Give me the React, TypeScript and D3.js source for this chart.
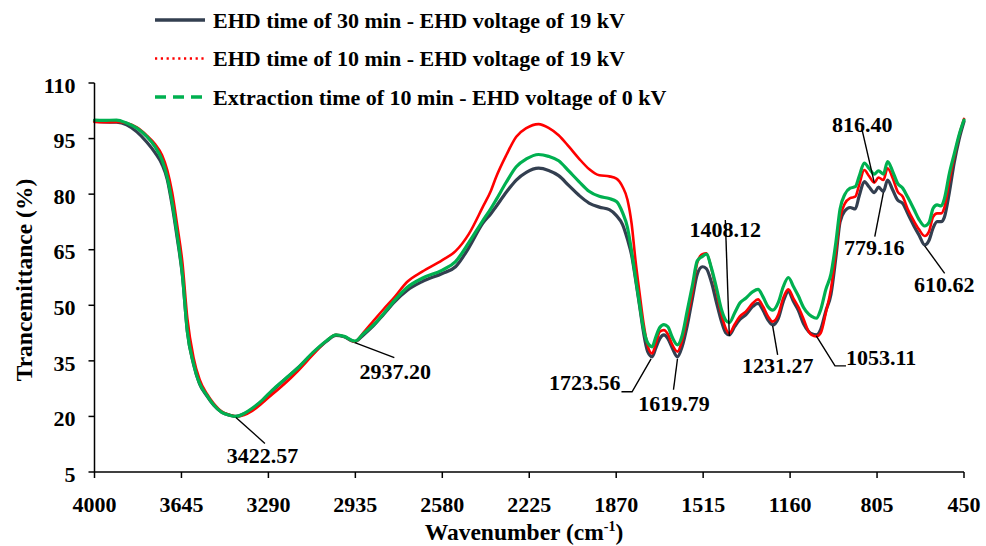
import React from 'react';
import * as d3 from 'd3';

// FTIR spectra: wavenumber (cm-1) and transmittance (%) for three extraction runs
const wavenumbers = [
  4000, 3964, 3910, 3869, 3827, 3786, 3753, 3724, 3703, 3683, 3662, 3641, 3621, 3596, 3571, 3542, 3513, 3480, 3447,
  3422.57, 3389, 3356, 3315, 3274, 3224, 3171, 3109, 3051, 3014, 2981, 2937.2, 2902, 2861, 2819, 2774, 2724, 2662,
  2580, 2526, 2472, 2415, 2381, 2361, 2319, 2278, 2237, 2187, 2146, 2105, 2063, 2022, 1981, 1939, 1898, 1869, 1844,
  1824, 1807, 1791, 1774, 1758, 1741, 1723.56, 1708, 1692, 1675, 1659, 1642, 1619.79, 1601, 1580, 1559, 1539, 1518,
  1502, 1481, 1460, 1440, 1423, 1408.12, 1386, 1365, 1341, 1312, 1291, 1270, 1250, 1231.27, 1208, 1188, 1167, 1146,
  1126, 1105, 1084, 1072, 1053.11, 1035, 1014, 993, 973, 956, 936, 915, 894, 878, 857, 838, 816.4, 799, 779.16, 762,
  741, 721, 700, 680, 655, 634, 610.62, 593, 576, 560, 543, 530, 510, 490, 470, 450,
];

const ehd30min19kV = [
  99.7, 99.5, 99.4, 98.7, 96.8, 94.0, 91.2, 88.0, 84.0, 77.0, 68.0, 58.0, 43.0, 34.2, 28.8, 25.6, 23.0, 21.1, 20.3,
  20.0, 20.7, 22.0, 24.2, 26.9, 29.9, 33.0, 37.0, 40.4, 41.9, 41.5, 40.2, 42.0, 44.5, 47.6, 51.0, 54.0, 56.4,
  58.6, 60.4, 65.5, 72.1, 74.8, 76.6, 80.5, 83.8, 85.9, 87.0, 86.4, 85.0, 82.3, 79.7, 77.6, 76.5, 75.8, 74.2, 71.8,
  67.8, 63.5, 57.0, 49.6, 42.5, 37.4, 36.1, 38.5, 41.0, 42.0, 41.0, 38.6, 36.1, 38.8, 44.5, 51.8, 58.4, 60.4,
  59.9, 56.2, 50.6, 45.6, 42.6, 42.0, 44.3, 46.2, 47.4, 49.7, 50.5, 48.6, 46.0, 44.7, 46.5, 51.0, 53.7, 51.0,
  48.6, 45.0, 42.9, 42.3, 42.0, 43.5, 48.5, 53.0, 63.0, 72.5, 75.5, 76.4, 76.0, 79.5, 83.4, 82.0, 80.4, 81.9, 80.7, 83.8,
  81.1, 78.4, 77.5, 74.8, 71.5, 69.0, 66.3, 67.5, 70.9, 72.6, 72.6, 73.8, 80.4, 88.5, 94.8, 99.6,
];

const ehd10min19kV = [
  99.5, 99.4, 99.5, 99.2, 98.0, 95.8, 93.5, 90.5, 86.5, 80.5, 71.5, 61.5, 46.5, 36.0, 30.0, 26.2, 23.5, 21.3, 20.4,
  20.0, 20.4, 21.5, 23.6, 26.0, 28.8, 32.2, 36.6, 40.5, 42.0, 41.6, 40.2, 42.6, 45.8, 49.0, 52.3, 56.3, 59.1,
  62.2, 64.6, 69.2, 76.5, 81.0, 84.5, 90.5, 95.5, 97.8, 98.9, 97.9, 95.9, 92.8, 89.6, 86.8, 85.1, 84.8, 84.2, 82.0,
  78.5, 72.0, 62.0, 53.0, 45.0, 39.0, 37.0, 39.7, 42.9, 43.3, 42.2, 39.5, 37.5, 40.5, 46.5, 53.5, 61.5, 63.8,
  64.0, 59.8, 53.5, 47.5, 43.8, 42.4, 44.9, 47.0, 48.3, 50.6, 51.6, 49.6, 47.0, 45.6, 47.5, 52.0, 54.3, 51.8,
  49.5, 46.3, 42.9, 42.0, 41.6, 42.5, 48.0, 54.5, 64.5, 73.5, 77.5, 78.9, 79.3, 82.5, 86.5, 84.9, 83.1, 84.5, 83.8, 87.0,
  84.3, 80.7, 79.3, 76.0, 72.8, 70.5, 68.7, 69.9, 73.9, 74.8, 74.8, 76.4, 83.5, 90.0, 95.8, 100.3,
];

const extraction10min0kV = [
  100.0, 99.9, 100.0, 99.2, 97.8, 95.5, 92.8, 89.2, 84.6, 77.8, 68.8, 58.2, 43.0, 34.4, 28.9, 25.8, 23.1, 21.1, 20.3,
  20.0, 20.8, 22.2, 24.4, 27.1, 30.0, 33.0, 37.2, 40.5, 42.0, 41.6, 40.3, 42.3, 44.7, 47.8, 51.4, 54.8, 57.3,
  59.5, 61.8, 66.9, 72.8, 76.2, 78.4, 83.2, 87.4, 89.5, 90.7, 90.2, 89.0, 86.2, 83.4, 80.8, 79.4, 78.8, 78.0, 75.0,
  71.0, 64.5, 57.5, 50.0, 43.5, 39.8, 38.8, 41.5, 44.0, 44.8, 44.2, 41.5, 39.3, 41.8, 48.5, 55.3, 62.0, 63.2,
  63.8, 60.0, 54.5, 48.8, 46.0, 45.3, 48.0, 50.6, 51.9, 53.7, 54.3, 52.2, 49.6, 48.7, 50.8, 55.0, 57.5, 55.0,
  52.5, 49.4, 47.6, 47.0, 46.5, 48.8, 54.3, 58.5, 67.0, 76.0, 80.0, 81.6, 82.0, 84.8, 88.4, 87.0, 85.4, 86.3, 85.4, 88.8,
  86.1, 82.9, 81.6, 79.2, 76.0, 73.2, 71.4, 72.3, 76.2, 77.1, 76.8, 78.8, 85.5, 90.8, 96.0, 100.0,
];

const xTickValues = [4000, 3645, 3290, 2935, 2580, 2225, 1870, 1515, 1160, 805, 450];
const yTickValues = [5, 20, 35, 50, 65, 80, 95, 110];

const seriesNames = [
  'EHD time of 30 min - EHD voltage of 19 kV',
  'EHD time of 10 min - EHD voltage of 19 kV',
  'Extraction time of 10 min - EHD voltage of 0 kV',
];

// Picked peaks: wavenumber and the series whose trace the leader touches
const peakWavenumbers = [3422.57, 2937.2, 1723.56, 1619.79, 1408.12, 1231.27, 1053.11, 816.4, 779.16, 610.62];
const peakSeries = [0, 0, 0, 0, 0, 0, 0, 1, 0, 0];

const W = 986;
const H = 546;
const FONT = '"Liberation Serif", "Times New Roman", serif';

const seriesStyles = [
  { color: '#333f50', width: 3.2, legendDash: undefined as string | undefined, legendWidth: 3.5 },
  { color: '#ff0000', width: 2.6, legendDash: '2.2 3.6', legendWidth: 2.5 },
  { color: '#00b050', width: 3.2, legendDash: '11 7', legendWidth: 3.5 },
];

// Label placement relative to each peak point: text offset, anchor and leader path
type PeakLayout = {
  tx: number;
  ty: number;
  anchor: 'start' | 'middle' | 'end';
  leader: [number, number][];
};
const peakLayout: PeakLayout[] = [
  { tx: 26.5, ty: 47, anchor: 'middle', leader: [[0, 1], [29, 27]] },
  { tx: 40.5, ty: 37, anchor: 'middle', leader: [[0, 1], [39.5, 16]] },
  { tx: -31.5, ty: 33, anchor: 'end', leader: [[-1, 2], [-20, 35], [-30.6, 35]] },
  { tx: -3.5, ty: 54, anchor: 'middle', leader: [[0, 2], [-4, 33]] },
  { tx: -4, ty: -98, anchor: 'middle', leader: [[0, 1], [-4, -115]] },
  { tx: 5, ty: 48, anchor: 'middle', leader: [[0, 1], [5, 30]] },
  { tx: 29.7, ty: 30, anchor: 'start', leader: [[0, 1], [18.7, 31], [29.7, 31]] },
  { tx: -12, ty: -51, anchor: 'middle', leader: [[0, 0], [-12, -52]] },
  { tx: -9.2, ty: 63.4, anchor: 'middle', leader: [[0, 1], [-8.6, 45]] },
  { tx: 19.6, ty: 46.8, anchor: 'middle', leader: [[0, 1], [20, 28.4]] },
];

export default function App() {
  const x = d3.scaleLinear().domain([4000, 450]).range([94.5, 964]);
  const y = d3.scaleLinear().domain([5, 110]).range([472, 83]);

  const allSeries = [ehd30min19kV, ehd10min19kV, extraction10min0kV];

  const line = d3
    .line<number>()
    .x((_, i) => x(wavenumbers[i]))
    .y((d) => y(d))
    .curve(d3.curveMonotoneX);

  const x0 = x(4000);
  const x1 = x(450);
  const yBase = y(5);
  const yTop = y(110);

  return (
    <svg
      width={W}
      height={H}
      viewBox={`0 0 ${W} ${H}`}
      style={{ position: 'absolute', left: 0, top: 0, background: '#fff' }}
      fontFamily={FONT}
      fontWeight="bold"
    >
      <rect x={0} y={0} width={W} height={H} fill="#fff" />

      {/* legend */}
      {seriesNames.map((name, i) => {
        const ly = 20 + i * 38.5;
        const s = seriesStyles[i];
        return (
          <g key={name}>
            <line
              x1={155}
              x2={205}
              y1={ly}
              y2={ly}
              stroke={s.color}
              strokeWidth={s.legendWidth}
              strokeDasharray={s.legendDash}
            />
            <text x={213} y={ly} dy="0.35em" fontSize={22} fill="#000">
              {name}
            </text>
          </g>
        );
      })}

      {/* spectra */}
      {allSeries.map((vals, i) => (
        <path
          key={i}
          d={line(vals) || ''}
          fill="none"
          stroke={seriesStyles[i].color}
          strokeWidth={seriesStyles[i].width}
          strokeLinejoin="round"
          strokeLinecap="round"
        />
      ))}

      {/* axes */}
      <g stroke="#000" strokeWidth={1.5}>
        <line x1={x0} x2={x0} y1={yTop} y2={yBase} />
        <line x1={x0} x2={x1} y1={yBase} y2={yBase} />
        {yTickValues.map((t) => (
          <line key={'yt' + t} x1={x0 - 6} x2={x0} y1={y(t)} y2={y(t)} />
        ))}
        {xTickValues.map((t) => (
          <line key={'xt' + t} x1={x(t)} x2={x(t)} y1={yBase} y2={yBase + 6} />
        ))}
      </g>
      {yTickValues.map((t) => (
        <text key={'yl' + t} x={x0 - 19} y={y(t) + 2} dy="0.35em" textAnchor="end" fontSize={22} fill="#000">
          {t}
        </text>
      ))}
      {xTickValues.map((t) => (
        <text key={'xl' + t} x={x(t)} y={511.5} textAnchor="middle" fontSize={22} fill="#000">
          {t}
        </text>
      ))}

      {/* axis titles */}
      <text
        transform={`translate(24, 280) rotate(-90)`}
        textAnchor="middle"
        dy="0.35em"
        fontSize={23.5}
        fill="#000"
      >
        Trancemittance (%)
      </text>
      <text x={524} y={540} textAnchor="middle" fontSize={23.5} fill="#000">
        Wavenumber (cm
        <tspan fontSize={14} dy={-9}>
          -1
        </tspan>
        <tspan dy={9}>)</tspan>
      </text>

      {/* peak labels */}
      {peakWavenumbers.map((wn, i) => {
        const idx = wavenumbers.indexOf(wn);
        const v = allSeries[peakSeries[i]][idx];
        const px = x(wn);
        const py = y(v);
        const lay = peakLayout[i];
        const pts = lay.leader.map(([dx, dy]) => [px + dx, py + dy] as [number, number]);
        return (
          <g key={'pk' + wn}>
            <polyline
              points={pts.map((p) => p.join(',')).join(' ')}
              fill="none"
              stroke="#000"
              strokeWidth={1.4}
            />
            <text x={px + lay.tx} y={py + lay.ty} textAnchor={lay.anchor} fontSize={22} fill="#000">
              {wn.toFixed(2)}
            </text>
          </g>
        );
      })}
    </svg>
  );
}
